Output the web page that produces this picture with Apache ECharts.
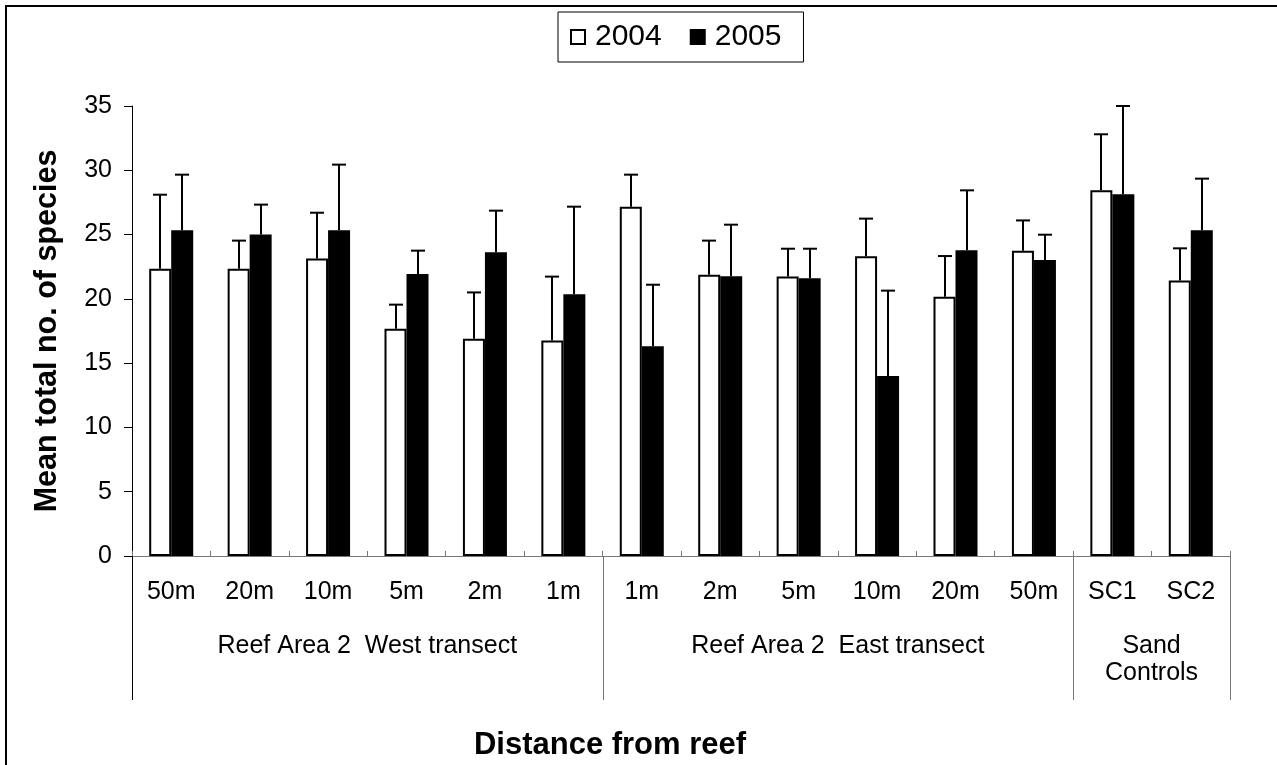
<!DOCTYPE html>
<html>
<head>
<meta charset="utf-8">
<script src="https://cdn.jsdelivr.net/npm/echarts@6/dist/echarts.min.js"></script>
<style>html,body{margin:0;padding:0;background:#fff}#c{width:1277px;height:765px}</style>
</head>
<body>
<div id="c"></div>
<script>
const categories = ['50m','20m','10m','5m','2m','1m','1m','2m','5m','10m','20m','50m','SC1','SC2'];
const mean2004 = [22.35, 22.35, 23.13, 17.68, 16.9, 16.77, 27.17, 21.88, 21.73, 23.31, 20.17, 23.75, 28.44, 21.42];
const se2004   = [5.75, 2.18, 3.57, 1.87, 3.6, 4.96, 2.49, 2.65, 2.17, 2.93, 3.16, 2.35, 4.36, 2.51];
const mean2005 = [25.33, 25.0, 25.33, 21.93, 23.62, 20.35, 16.31, 21.75, 21.6, 14.0, 23.78, 23.02, 28.13, 25.33];
const se2005   = [4.33, 2.33, 5.11, 1.82, 3.24, 6.82, 4.79, 4.02, 2.3, 6.64, 4.66, 1.97, 6.87, 4.02];
const groups = [
  {label: 'Reef Area 2  West transect', start: 0, end: 6},
  {label: 'Reef Area 2  East transect', start: 6, end: 12},
  {label: 'Sand\nControls', start: 12, end: 14}
];
const yTicks = {min: 0, max: 35, interval: 5};
const xTitle = 'Distance from reef';
const yTitle = 'Mean total no. of species';

const FONT = "'Liberation Sans', Arial, sans-serif";
const BW = 22;

function errSeries(name, means, ses, offset) {
  return {
    type: 'custom',
    name: name + ' err',
    z: 5,
    silent: true,
    data: means.map((m, i) => [i, m, ses[i]]),
    encode: {x: 0, y: 1},
    renderItem: function (params, api) {
      const base = api.coord([api.value(0), api.value(1)]);
      const top = api.coord([api.value(0), api.value(1) + api.value(2)]);
      const x = Math.round(base[0] + offset);
      const st = {stroke: '#000', lineWidth: 2};
      return {
        type: 'group',
        children: [
          {type: 'line', shape: {x1: x, y1: base[1], x2: x, y2: top[1]}, style: st},
          {type: 'line', shape: {x1: x - 7, y1: top[1], x2: x + 7, y2: top[1]}, style: st}
        ]
      };
    }
  };
}

const chart = echarts.init(document.getElementById('c'), null, {renderer: 'canvas'});
const option = {
  animation: false,
  backgroundColor: '#fff',
  textStyle: {fontFamily: FONT},
  grid: {left: 132, right: 47, top: 106, bottom: 209, containLabel: false},
  legend: {
    data: ['2004', '2005'],
    left: 558, top: 12,
    orient: 'horizontal',
    borderColor: '#000', borderWidth: 1,
    padding: [10, 22, 10, 12],
    itemWidth: 14, itemHeight: 14, itemGap: 28,
    icon: 'rect',
    textStyle: {fontFamily: FONT, fontSize: 30, color: '#000', padding: [0, 0, 0, 5]}
  },
  xAxis: {
    type: 'category',
    data: categories,
    boundaryGap: true,
    axisLine: {lineStyle: {color: '#777', width: 1}},
    axisTick: {show: true, inside: true, length: 5, lineStyle: {color: '#777'}},
    axisLabel: {fontFamily: FONT, fontSize: 25, color: '#000', margin: 24, interval: 0},
    splitLine: {show: false}
  },
  yAxis: {
    type: 'value',
    min: yTicks.min, max: yTicks.max, interval: yTicks.interval,
    axisLine: {show: true, lineStyle: {color: '#000', width: 1}},
    axisTick: {show: true, inside: false, length: 8, lineStyle: {color: '#000'}},
    axisLabel: {fontFamily: FONT, fontSize: 25, color: '#000', margin: 20},
    splitLine: {show: false},
    name: yTitle,
    nameLocation: 'middle',
    nameGap: 69,
    nameTextStyle: {fontFamily: FONT, fontSize: 30.5, fontWeight: 'bold', color: '#000'}
  },
  series: [
    {
      name: '2004', type: 'bar', data: mean2004, barWidth: BW, barGap: '0%',
      itemStyle: {color: '#fff', borderColor: '#000', borderWidth: 2}
    },
    {
      name: '2005', type: 'bar', data: mean2005, barWidth: BW, barGap: '0%',
      itemStyle: {color: '#000', borderColor: '#000', borderWidth: 2}
    },
    errSeries('2004', mean2004, se2004, -BW / 2),
    errSeries('2005', mean2005, se2005, BW / 2)
  ]
};
chart.setOption(option);

// group dividers and labels, positioned via the axis scale
const p0 = chart.convertToPixel({xAxisIndex: 0}, 0);
const p1 = chart.convertToPixel({xAxisIndex: 0}, 1);
const band = p1 - p0;
const axisY = chart.convertToPixel({yAxisIndex: 0}, 0);
const bound = i => p0 - band / 2 + i * band;
const elems = [];
const bounds = new Set();
groups.forEach(g => { bounds.add(g.start); bounds.add(g.end); });
bounds.forEach(b => {
  const x = Math.round(bound(b)) + 0.5;
  elems.push({type: 'line', shape: {x1: x, y1: axisY, x2: x, y2: 700}, style: {stroke: b === 0 ? '#000' : '#777', lineWidth: 1}, z: 10});
});
groups.forEach(g => {
  const two = g.label.indexOf('\n') >= 0;
  elems.push({
    type: 'text',
    x: (bound(g.start) + bound(g.end)) / 2,
    y: two ? 646 - 13.5 : 646,
    style: {text: g.label, font: '25px ' + FONT, fill: '#000', align: 'center', verticalAlign: two ? 'top' : 'middle', lineHeight: 27},
    z: 10
  });
});
elems.push({
  type: 'text', x: 610, y: 745,
  style: {text: xTitle, font: 'bold 31px ' + FONT, fill: '#000', align: 'center', verticalAlign: 'middle'},
  z: 10
});
elems.push({type: 'rect', shape: {x: 6, y: 6, width: 1400, height: 900}, style: {fill: 'none', stroke: '#000', lineWidth: 2}, z: 0, silent: true});
chart.setOption({graphic: {elements: elems}});
</script>
</body>
</html>
